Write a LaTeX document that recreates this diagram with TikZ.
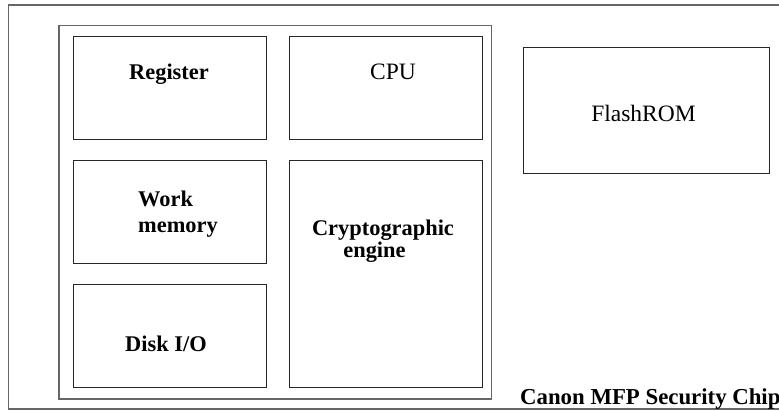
\documentclass[tikz,border=0pt]{standalone}
\usepackage{fontspec}
\setmainfont{Liberation Serif}
\begin{document}
\begin{tikzpicture}[x=1pt,y=-1pt,
  box/.style={draw=black!85, line width=1pt, inner sep=0pt, anchor=north west},
  frame/.style={draw=black!60, line width=1.2pt},
  lbl/.style={font=\fontsize{22.4}{24}\selectfont\bfseries, inner sep=0pt, anchor=base},
  lbllight/.style={font=\fontsize{23.5}{25}\selectfont, inner sep=0pt, anchor=base}]
\useasboundingbox (0,0) rectangle (779,410);
% outer frame (right side runs off the picture)
\coordinate (o1) at (781,5);
\coordinate (o2) at (8.3,5);
\coordinate (o3) at (8.3,409);
\coordinate (o4) at (781,409);
\draw[frame] (o1) -- (o2) -- (o3) -- (o4);
% inner chip frame
\node[box, frame, minimum width=432.4pt, minimum height=373.8pt] (chip) at (58.3,24.5) {};
% boxes
\node[box, minimum width=193pt, minimum height=103pt] (reg) at (73,36) {};
\node[box, minimum width=192.4pt, minimum height=103pt] (cpu) at (289.3,36) {};
\node[box, minimum width=193pt, minimum height=103pt] (work) at (73,160) {};
\node[box, minimum width=193pt, minimum height=103pt] (disk) at (73,284.3) {};
\node[box, minimum width=192.4pt, minimum height=227pt] (crypto) at (289.3,160) {};
\node[box, minimum width=246pt, minimum height=126.2pt] (flash) at (523,46.5) {};
% labels
\node[lbl] (tReg) at (169,79) {Register};
\node[lbllight] (tCpu) at (393,79) {CPU};
\node[lbl, anchor=base west] (tWork) at (138,206) {Work};
\node[lbl, anchor=base west] (tMem) at (138,232) {memory};
\node[lbl] (tCrypto) at (383,235) {Cryptographic};
\node[lbl] (tEngine) at (374.5,257) {engine};
\node[lbl] (tDisk) at (166,351.7) {Disk I/O};
\node[lbllight] (tFlash) at (643.5,121.7) {FlashROM};
\node[lbl, font=\fontsize{22.8}{24}\selectfont\bfseries, anchor=base west] (tChip) at (520,404) {Canon MFP Security Chip};
\end{tikzpicture}
\end{document}
